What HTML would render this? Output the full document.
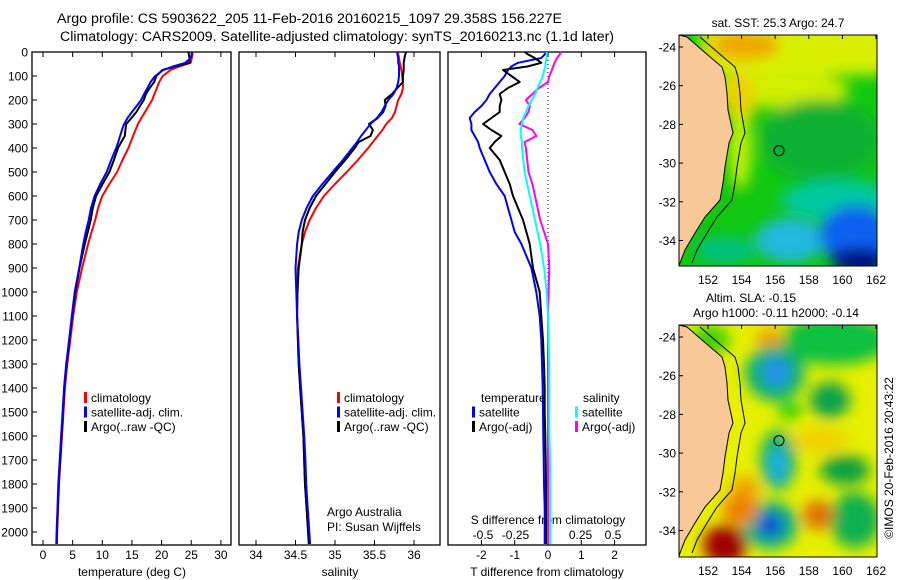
<!DOCTYPE html>
<html><head><meta charset="utf-8"><style>
body{margin:0;background:#fff;}
svg{display:block;font-family:"Liberation Sans",sans-serif;}
</style></head><body>
<svg id="chart" width="900" height="580" viewBox="0 0 900 580" xmlns="http://www.w3.org/2000/svg">
<defs>
<filter id="blur6" x="-50%" y="-50%" width="200%" height="200%"><feGaussianBlur stdDeviation="7"/></filter>
<filter id="blur3" x="-50%" y="-50%" width="200%" height="200%"><feGaussianBlur stdDeviation="3"/></filter>
<clipPath id="mapclip"><rect x="679" y="35" width="198" height="231"/></clipPath>
<clipPath id="mapclip2"><rect x="679" y="325" width="198" height="232"/></clipPath>
</defs>
<text x="57" y="23" font-size="13.5" textLength="505" lengthAdjust="spacingAndGlyphs">Argo profile: CS 5903622_205 11-Feb-2016 20160215_1097 29.358S 156.227E</text>
<text x="60" y="41" font-size="13.5" textLength="554" lengthAdjust="spacingAndGlyphs">Climatology: CARS2009. Satellite-adjusted climatology: synTS_20160213.nc (1.1d later)</text>

<!-- SST map -->
<g clip-path="url(#mapclip)">
 <rect x="679" y="35" width="198" height="231" fill="#10c810"/>
 <g filter="url(#blur6)">
  <rect x="700" y="20" width="190" height="55" fill="#d8f000"/>
  <ellipse cx="780" cy="90" rx="70" ry="18" fill="#d0ee00"/>
  <ellipse cx="745" cy="45" rx="35" ry="15" fill="#f0a800"/>
  <ellipse cx="740" cy="100" rx="15" ry="30" fill="#f0d000"/>
  <ellipse cx="740" cy="150" rx="12" ry="40" fill="#c0f000"/>
  <ellipse cx="820" cy="140" rx="60" ry="40" fill="#10b030"/>
  <ellipse cx="840" cy="200" rx="60" ry="20" fill="#00c8a0"/>
  <ellipse cx="790" cy="240" rx="35" ry="22" fill="#20b8e0"/>
  <ellipse cx="855" cy="235" rx="35" ry="30" fill="#1060f0"/>
  <ellipse cx="860" cy="260" rx="30" ry="12" fill="#000080"/>
  <ellipse cx="725" cy="250" rx="30" ry="14" fill="#00c080"/>
 </g>
</g>
<!-- SLA map -->
<g clip-path="url(#mapclip2)">
 <rect x="679" y="325" width="198" height="232" fill="#e6f000"/>
 <g filter="url(#blur6)">
  <ellipse cx="835" cy="340" rx="55" ry="25" fill="#10c040"/>
  <ellipse cx="710" cy="340" rx="20" ry="15" fill="#40d000"/>
  <ellipse cx="770" cy="340" rx="14" ry="12" fill="#f0a000"/>
  <ellipse cx="775" cy="373" rx="30" ry="28" fill="#10b070"/>
  <ellipse cx="776" cy="372" rx="14" ry="14" fill="#2090f0"/>
  <ellipse cx="830" cy="400" rx="20" ry="18" fill="#10a050"/>
  <ellipse cx="790" cy="410" rx="12" ry="10" fill="#30d000"/>
  <ellipse cx="778" cy="460" rx="18" ry="30" fill="#10b070"/>
  <ellipse cx="778" cy="465" rx="8" ry="18" fill="#20b0f0"/>
  <ellipse cx="845" cy="470" rx="25" ry="15" fill="#10a040"/>
  <ellipse cx="855" cy="520" rx="25" ry="28" fill="#10b050"/>
  <ellipse cx="745" cy="490" rx="14" ry="14" fill="#f0a000"/>
  <ellipse cx="818" cy="515" rx="15" ry="15" fill="#e07000"/>
  <ellipse cx="770" cy="525" rx="28" ry="24" fill="#10b080"/>
  <ellipse cx="770" cy="525" rx="12" ry="12" fill="#1040e0"/>
  <ellipse cx="725" cy="545" rx="22" ry="20" fill="#a00000"/>
  <ellipse cx="740" cy="510" rx="18" ry="15" fill="#f08000"/>
  <ellipse cx="820" cy="440" rx="30" ry="12" fill="#f0d000"/>
 </g>
</g>
<g id="maps-overlay"></g>
<g id="profiles"></g>
</svg>
<script>
// ---- profile data ----
const depths   = [0,10,25,45,60,75,100,125,150,175,200,225,250,275,300,325,350,375,400,450,500,550,600,650,700,750,800,900,1000,1100,1200,1300,1400,1500,1600,1700,1800,1900,2000,2050];
const tClim    = [25.2,25.2,25.1,24.9,23,21.5,20.2,19.6,19.2,18.8,18.4,17.8,17.2,16.6,16.0,15.6,15.2,14.8,14.4,13.4,12.5,11.2,10.0,9.3,8.8,8.2,7.6,6.6,5.7,5.1,4.6,4.1,3.7,3.45,3.2,2.95,2.7,2.55,2.4,2.35];
const tSatDiff = [-0.05,-0.1,-0.2,-0.9,-1.1,-1.2,-1.3,-1.45,-1.6,-1.75,-1.85,-2.0,-2.2,-2.35,-2.3,-2.3,-2.2,-2.1,-2.05,-1.9,-1.75,-1.55,-1.3,-1.2,-1.1,-1.0,-0.8,-0.5,-0.35,-0.25,-0.2,-0.18,-0.16,-0.15,-0.14,-0.13,-0.12,-0.1,-0.1,-0.1];
const tArgoDiff= [-0.7,-0.6,-0.4,-0.2,-0.6,-1.35,-1.1,-0.85,-1.2,-1.45,-1.4,-1.45,-1.45,-1.7,-1.95,-1.7,-1.4,-1.6,-1.75,-1.45,-1.3,-1.15,-1.05,-0.9,-0.75,-0.65,-0.55,-0.45,-0.25,-0.2,-0.15,-0.12,-0.1,-0.1,-0.08,-0.07,-0.06,-0.05,-0.05,-0.05];
const sClim    = [35.80,35.80,35.81,35.82,35.83,35.84,35.85,35.86,35.86,35.84,35.80,35.78,35.76,35.72,35.65,35.6,35.54,35.48,35.42,35.29,35.15,35.0,34.86,34.76,34.68,34.62,34.58,34.53,34.52,34.52,34.53,34.54,34.56,34.58,34.6,34.61,34.62,34.64,34.66,34.67];
const sSatDiff = [-0.01,-0.01,-0.01,-0.02,-0.02,-0.03,-0.04,-0.06,-0.08,-0.1,-0.125,-0.15,-0.17,-0.19,-0.2,-0.21,-0.21,-0.2,-0.2,-0.19,-0.18,-0.16,-0.14,-0.12,-0.1,-0.08,-0.06,-0.03,-0.01,0,0.005,0.01,0.01,0.01,0.01,0.015,0.015,0.015,0.015,0.015];
const sArgoDiff= [0.1,0.09,0.07,0.05,0.04,0.03,0.01,0,-0.07,-0.12,-0.17,-0.14,-0.15,-0.18,-0.22,-0.12,-0.09,-0.18,-0.17,-0.16,-0.15,-0.12,-0.1,-0.08,-0.06,-0.03,0.0,0.01,0.005,0,0,0,0,0,0,0,0,0,0,0];
const depthTicks = [0,100,200,300,400,500,600,700,800,900,1000,1100,1200,1300,1400,1500,1600,1700,1800,1900,2000];
const tTicks = [0,5,10,15,20,25,30];
const sTicks = [34,34.5,35,35.5,36];
const tdTicks = [-2,-1,0,1,2];
const sdTicks = [-0.5,-0.25,0,0.25,0.5];
const sdTickLabels = ["-0.5","-0.25","0","0.25","0.5"];
const latTicks = [-24,-26,-28,-30,-32,-34];
const lonTicks = [152,154,156,158,160,162];

const NS="http://www.w3.org/2000/svg";
const yD = d => 52 + d*0.24;
const xT = t => 43 + t*5.93;
const xS = s => 256 + (s-34)*79;
const xTd = v => 548 + v*33.3;
const xSd = v => 548 + v*130;
const P = document.getElementById('profiles');
function mk(tag, attrs, parent, txt){
  const e=document.createElementNS(NS,tag);
  for(const k in attrs) e.setAttribute(k,attrs[k]);
  if(txt!==undefined) e.textContent=txt;
  (parent||P).appendChild(e); return e;
}
function txt(x,y,s,anchor,size,parent){
  return mk('text',{x:x,y:y,'text-anchor':anchor||'start','font-size':size||12},parent,s);
}
function line(vals, fx, color, name){
  const pts = depths.map((d,i)=>fx(vals[i]).toFixed(1)+','+yD(d).toFixed(1)).join(' ');
  const e = mk('polyline',{points:pts,fill:'none',stroke:color,'stroke-width':2,'stroke-linejoin':'round'});
  
  
}
const panels=[[32,231,'temperature-panel'],[239,440,'salinity-panel'],[448,646,'difference-panel']];
panels.forEach(p=>{
  const r = mk('rect',{x:p[0],y:52,width:p[1]-p[0],height:493,fill:'none',stroke:'#000','stroke-width':1.3});
  
  
});
// depth axis
depthTicks.forEach(d=>{
  const t = txt(28,yD(d)+4.5,String(d),'end',12);
  
  
  mk('line',{x1:32,x2:37,y1:yD(d),y2:yD(d),stroke:'#000'});
});
// x ticks
function xticks(vals, fx, labels, ybase, name, top){
  vals.forEach((v,i)=>{
    const t = txt(fx(v), ybase, labels?labels[i]:String(v), 'middle', 12);
    
    
    if(top){ mk('line',{x1:fx(v),x2:fx(v),y1:52,y2:57,stroke:'#000'}); mk('line',{x1:fx(v),x2:fx(v),y1:545,y2:540,stroke:'#000'}); }
  });
}
xticks(tTicks,xT,null,559,'temperature-tick-label',true);
xticks(sTicks,xS,null,559,'salinity-tick-label',true);
xticks(tdTicks,xTd,null,559,'t-difference-tick-label',true);
xticks(sdTicks,xSd,sdTickLabels,539,'s-difference-tick-label',false);
[['temperature (deg C)',132,'temperature-axis-title'],['salinity',340,'salinity-axis-title'],['T difference from climatology',547,'t-difference-axis-title']].forEach(a=>{
  const t=txt(a[1],576,a[0],'middle',12);
  
  
});
const sdt=txt(548,524,'S difference from climatology','middle',12);


// zero line
const zl = mk('line',{x1:548,x2:548,y1:52,y2:545,stroke:'#000','stroke-dasharray':'1,3'});



const tSat = tClim.map((v,i)=>v+tSatDiff[i]);
const tArgo = tClim.map((v,i)=>v+tArgoDiff[i]);
const sSat = sClim.map((v,i)=>v+sSatDiff[i]);
const sArgo = sClim.map((v,i)=>v+sArgoDiff[i]);
line(tClim,xT,'#ff0000','temperature-climatology-line');
line(tArgo,xT,'#000000','temperature-argo-line');
line(tSat,xT,'#0000ff','temperature-satellite-line');
line(sClim,xS,'#ff0000','salinity-climatology-line');
line(sArgo,xS,'#000000','salinity-argo-line');
line(sSat,xS,'#0000ff','salinity-satellite-line');
line(tSatDiff,xTd,'#0000ff','t-diff-satellite-line');
line(tArgoDiff,xTd,'#000000','t-diff-argo-line');
line(sArgoDiff,xSd,'#ff00ff','s-diff-argo-line');
line(sSatDiff,xSd,'#00ffff','s-diff-satellite-line');

// legends
function legend(x,y,color,label,name){
  const g=mk('g',{});
  
  
  mk('rect',{x:x,y:y-10,width:3,height:11,fill:color},g);
  txt(x+7,y,label,'start',12,g);
}
[[84,'#ff0000','climatology'],[84,'#0000ff','satellite-adj. clim.'],[84,'#000000','Argo(..raw -QC)']].forEach((l,i)=>legend(l[0],402+i*14.5,l[1],l[2],'temperature-legend-entry'));
[[337,'#ff0000','climatology'],[337,'#0000ff','satellite-adj. clim.'],[337,'#000000','Argo(..raw -QC)']].forEach((l,i)=>legend(l[0],402+i*14.5,l[1],l[2],'salinity-legend-entry'));
const lt=txt(481,402,'temperature','start',12);  
const ls=txt(583,402,'salinity','start',12);  
legend(472,416.5,'#0000ff','satellite','t-diff-legend-entry');
legend(472,431,'#000000','Argo(-adj)','t-diff-legend-entry');
legend(575,416.5,'#00ffff','satellite','s-diff-legend-entry');
legend(575,431,'#ff00ff','Argo(-adj)','s-diff-legend-entry');
const a1=txt(327,516,'Argo Australia','start',12);  
const a2=txt(327,531,'PI: Susan Wijffels','start',12);  

// ---- maps ----
const M = document.getElementById('maps-overlay');
const coast = [[679,35],[687,37],[702,50],[722,67],[725,77],[727,93],[728,110],[733,133],[729,143],[725,167],[723,183],[720,200],[705,217],[695,233],[685,250],[680,263],[679,266]];
function drawMap(dy, top, h, name, title1, title2){
  const g=mk('g',{},M);
  
  
  const pts = coast.map(p=>p[0]+','+(p[1]+dy)).join(' ');
  mk('polygon',{points:pts,fill:'#f9c897',stroke:'#000','stroke-width':1},g);
  const shelf = coast.slice(1,-1).map(p=>(p[0]+ (p[1]<120?13:12))+','+(p[1]+dy)).join(' ');
  mk('polyline',{points:shelf,fill:'none',stroke:'#000','stroke-width':1},g);
  mk('rect',{x:679,y:top,width:198,height:h,fill:'none',stroke:'#000','stroke-width':1},g);
  const yl = lat => top + 12 + (-24-lat)*19.35;
  const xl = lon => 708 + (lon-152)*16.8;
  latTicks.forEach(l=>{ txt(676,yl(l)+4.5,String(l),'end',12,g); mk('line',{x1:679,x2:683,y1:yl(l),y2:yl(l),stroke:'#000'},g);});
  lonTicks.forEach(l=>{ txt(xl(l),top+h+18,String(l),'middle',12,g); mk('line',{x1:xl(l),x2:xl(l),y1:top,y2:top+4,stroke:'#000'},g);});
  const c = mk('circle',{cx:xl(156.227),cy:yl(-29.358),r:5,fill:'none',stroke:'#000','stroke-width':1},g);
  
  
}
drawMap(0,35,231,'sst-map');
drawMap(290,325,232,'sla-map');
const m1=txt(778,27,'sat. SST: 25.3 Argo: 24.7','middle',12);  
const m2=txt(751,302,'Altim. SLA: -0.15','middle',12);  
const m3=txt(776,317,'Argo h1000: -0.11 h2000: -0.14','middle',12);  
const cr=mk('text',{x:0,y:0,'font-size':12,'text-anchor':'middle',transform:'translate(893,458) rotate(-90)'},P,'©IMOS 20-Feb-2016 20:43:22');


</script>
</body></html>
